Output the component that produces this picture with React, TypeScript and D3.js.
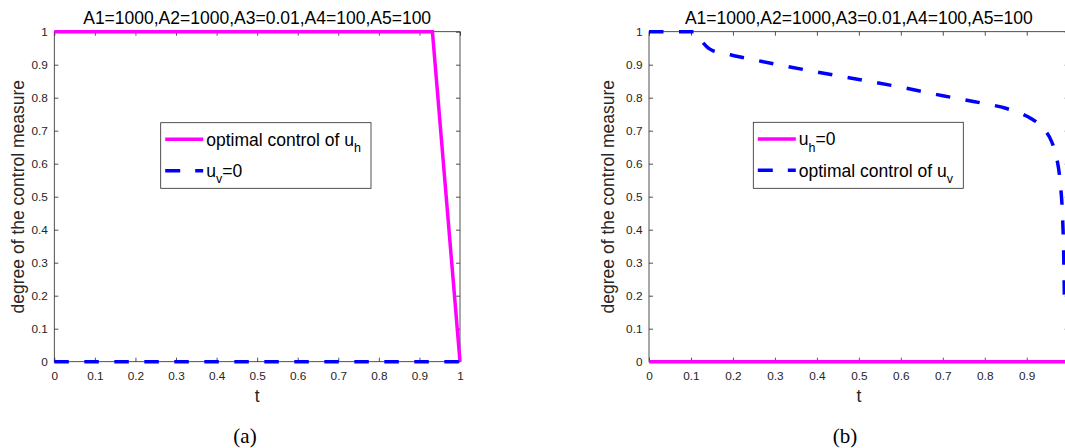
import React, { useEffect, useRef } from 'react'
import * as d3 from 'd3'

// panel (a)
const tUhA = [0, 0.932, 1]
const uhA = [1, 1, 0]
const tUvA = [0, 1]
const uvA = [0, 0]

// panel (b)
const tUhB = [0, 1]
const uhB = [0, 0]
const tUvB = [0, 0.11, 0.12, 0.13, 0.14, 0.15, 0.17, 0.2, 0.3, 0.4, 0.5, 0.6, 0.7, 0.8, 0.85, 0.88, 0.91, 0.94, 0.96, 0.97, 0.98, 0.985, 0.988, 0.99]
const uvB = [1, 1, 0.985, 0.965, 0.952, 0.944, 0.936, 0.928, 0.902, 0.878, 0.855, 0.832, 0.806, 0.782, 0.768, 0.755, 0.737, 0.707, 0.665, 0.625, 0.54, 0.45, 0.33, 0.17]

const xTicks = [0, 0.1, 0.2, 0.3, 0.4, 0.5, 0.6, 0.7, 0.8, 0.9, 1]
const yTicks = [0, 0.1, 0.2, 0.3, 0.4, 0.5, 0.6, 0.7, 0.8, 0.9, 1]
const titleText = 'A1=1000,A2=1000,A3=0.01,A4=100,A5=100'
const yLabel = 'degree of the control measure'
const xLabel = 't'

const W = 1065, H = 448
const FONT = '"Liberation Sans", Arial, Helvetica, sans-serif'
const MAGENTA = '#ff00ff'
const BLUE = '#0000ff'
const AXC = '#262626'

type Leg = { main: string, sub: string, rest: string }
type Panel = {
  left: number, right: number, top: number, bottom: number,
  ylabX: number, caption: string, capX: number,
  legX: number, legY: number, legW: number, legH: number,
  legH1: Leg, legV: Leg,
  tUh: number[], uh: number[], tUv: number[], uv: number[]
}

const panels: Panel[] = [
  {
    left: 54.3, right: 460, top: 31.7, bottom: 361.7, ylabX: 18, caption: '(a)', capX: 245,
    legX: 160.7, legY: 122.7, legW: 210.3, legH: 65.6,
    legH1: { main: 'optimal control of u', sub: 'h', rest: '' },
    legV: { main: 'u', sub: 'v', rest: '=0' },
    tUh: tUhA, uh: uhA, tUv: tUvA, uv: uvA
  },
  {
    left: 649, right: 1068.7, top: 31.7, bottom: 361.7, ylabX: 608, caption: '(b)', capX: 845,
    legX: 753.3, legY: 122.3, legW: 210, legH: 66,
    legH1: { main: 'u', sub: 'h', rest: '=0' },
    legV: { main: 'optimal control of u', sub: 'v', rest: '' },
    tUh: tUhB, uh: uhB, tUv: tUvB, uv: uvB
  }
]

export default function App() {
  const ref = useRef<SVGSVGElement>(null)

  useEffect(() => {
    const svg = d3.select(ref.current)
    svg.selectAll('*').remove()

    panels.forEach(p => {
      const x = d3.scaleLinear().domain([0, 1]).range([p.left, p.right])
      const y = d3.scaleLinear().domain([0, 1]).range([p.bottom, p.top])
      const g = svg.append('g')

      // box
      g.append('rect').attr('x', p.left).attr('y', p.top)
        .attr('width', p.right - p.left).attr('height', p.bottom - p.top)
        .attr('fill', 'none').attr('stroke', AXC).attr('stroke-width', 0.8)

      // labels that fall past the page edge are cropped in the original
      const fmtX = (d: d3.NumberValue) => x(+d) + 4 > W ? '' : String(+d)
      const fmtY = (d: d3.NumberValue) => String(+d)
      const styleAxis = (sel: any) => {
        sel.select('.domain').remove()
        sel.selectAll('line').attr('stroke', AXC).attr('stroke-width', 0.8)
        sel.selectAll('text').attr('fill', AXC).style('font-family', FONT).style('font-size', '11.8px')
      }

      g.append('g').attr('transform', `translate(0,${p.bottom})`)
        .call(d3.axisBottom(x).tickValues(xTicks).tickSize(-4).tickPadding(10).tickFormat(fmtX))
        .call(styleAxis)
      g.append('g').attr('transform', `translate(0,${p.top})`)
        .call(d3.axisTop(x).tickValues(xTicks).tickSize(-4).tickFormat(() => ''))
        .call(styleAxis)
      g.append('g').attr('transform', `translate(${p.left},0)`)
        .call(d3.axisLeft(y).tickValues(yTicks).tickSize(-4).tickPadding(6.5).tickFormat(fmtY))
        .call(styleAxis)
      g.append('g').attr('transform', `translate(${p.right},0)`)
        .call(d3.axisRight(y).tickValues(yTicks).tickSize(-4).tickFormat(() => ''))
        .call(styleAxis)

      const line = d3.line<[number, number]>().x(d => x(d[0])).y(d => y(d[1]))
      const smooth = d3.line<[number, number]>().x(d => x(d[0])).y(d => y(d[1])).curve(d3.curveMonotoneX)

      g.append('path').datum(p.tUh.map((t, i) => [t, p.uh[i]] as [number, number]))
        .attr('d', line).attr('fill', 'none').attr('stroke', MAGENTA).attr('stroke-width', 3.5)
      g.append('path').datum(p.tUv.map((t, i) => [t, p.uv[i]] as [number, number]))
        .attr('d', smooth).attr('fill', 'none').attr('stroke', BLUE).attr('stroke-width', 3.5)
        .attr('stroke-dasharray', '14.5,15.5')

      const cx = (p.left + p.right) / 2
      g.append('text').attr('x', cx).attr('y', 24).attr('text-anchor', 'middle')
        .style('font-family', FONT).style('font-size', '17.5px').attr('fill', '#000').text(titleText)
      g.append('text').attr('x', cx).attr('y', 402).attr('text-anchor', 'middle')
        .style('font-family', FONT).style('font-size', '17.5px').attr('fill', AXC).text(xLabel)
      const cy = (p.top + p.bottom) / 2
      g.append('text').attr('transform', `translate(${p.ylabX},${cy}) rotate(-90)`)
        .attr('text-anchor', 'middle').attr('dy', '0.35em')
        .style('font-family', FONT).style('font-size', '17.5px').attr('fill', AXC).text(yLabel)
      g.append('text').attr('x', p.capX).attr('y', 443).attr('text-anchor', 'middle')
        .style('font-family', '"Liberation Serif", "DejaVu Serif", serif').style('font-size', '21px')
        .attr('fill', '#000').text(p.caption)

      // legend
      const lg = g.append('g')
      lg.append('rect').attr('x', p.legX).attr('y', p.legY).attr('width', p.legW).attr('height', p.legH)
        .attr('fill', '#fff').attr('stroke', AXC).attr('stroke-width', 0.8)
      const rows: [Leg, string, string | null][] = [[p.legH1, MAGENTA, null], [p.legV, BLUE, '15,15']]
      rows.forEach(([leg, col, dash], i) => {
        const ry = p.legY + 16.6 + i * 31.4
        const l = lg.append('line').attr('x1', p.legX + 4.5).attr('x2', p.legX + 42.5)
          .attr('y1', ry).attr('y2', ry).attr('stroke', col).attr('stroke-width', 3.5)
        if (dash) l.attr('stroke-dasharray', dash)
        const t = lg.append('text').attr('x', p.legX + 45.5).attr('y', ry + 6.2)
          .style('font-family', FONT).style('font-size', '17.5px').attr('fill', '#000')
        t.append('tspan').text(leg.main)
        t.append('tspan').attr('dy', 6.5).style('font-size', '12.5px').text(leg.sub)
        if (leg.rest) t.append('tspan').attr('dy', -6.5).text(leg.rest)
      })
    })
  }, [])

  return (
    <svg ref={ref} width={W} height={H}
      style={{ position: 'absolute', left: 0, top: 0, background: '#fff' }} />
  )
}
